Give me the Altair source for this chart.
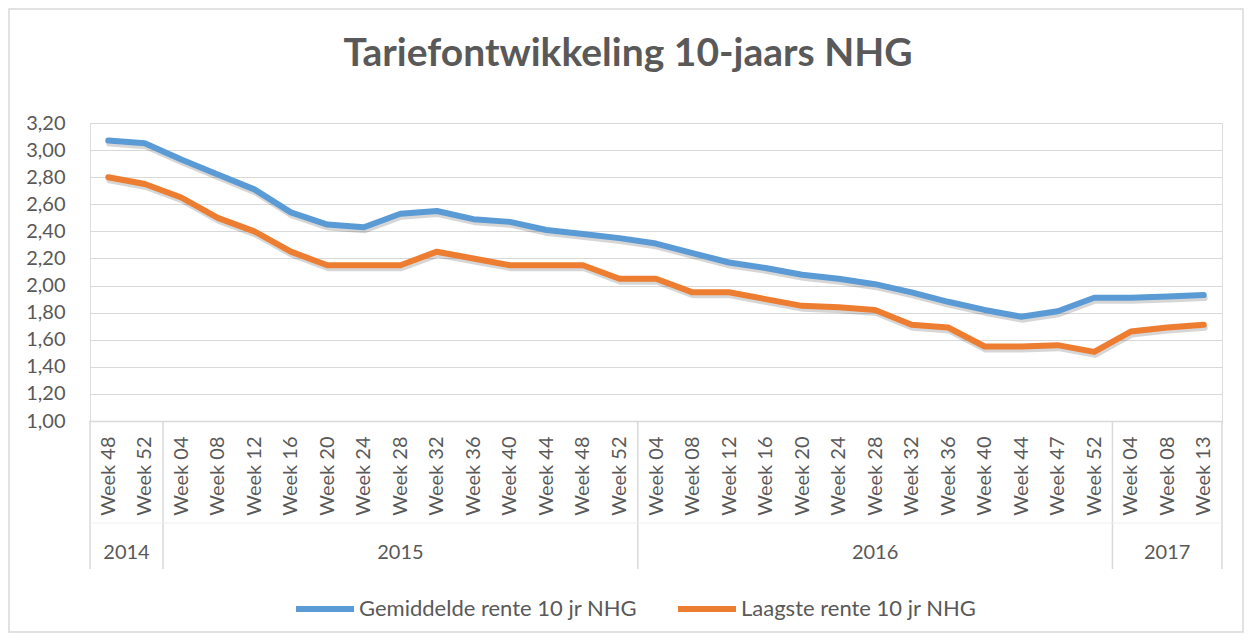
import altair as alt
import pandas as pd

weeks = ["Week 48", "Week 52",
         "Week 04", "Week 08", "Week 12", "Week 16", "Week 20", "Week 24", "Week 28",
         "Week 32", "Week 36", "Week 40", "Week 44", "Week 48", "Week 52",
         "Week 04", "Week 08", "Week 12", "Week 16", "Week 20", "Week 24", "Week 28",
         "Week 32", "Week 36", "Week 40", "Week 44", "Week 47", "Week 52",
         "Week 04", "Week 08", "Week 13"]
years = ["2014"] * 2 + ["2015"] * 13 + ["2016"] * 13 + ["2017"] * 3

gemiddelde = [3.07, 3.05, 2.93, 2.82, 2.71, 2.54, 2.45, 2.43, 2.53, 2.55, 2.49, 2.47, 2.41, 2.38, 2.35,
              2.31, 2.24, 2.17, 2.13, 2.08, 2.05, 2.01, 1.95, 1.88, 1.82, 1.77, 1.81, 1.91,
              1.91, 1.92, 1.93]
laagste = [2.80, 2.75, 2.65, 2.50, 2.40, 2.25, 2.15, 2.15, 2.15, 2.25, 2.20, 2.15, 2.15, 2.15, 2.05,
           2.05, 1.95, 1.95, 1.90, 1.85, 1.84, 1.82, 1.71, 1.69, 1.55, 1.55, 1.56, 1.51,
           1.66, 1.69, 1.71]

series_names = ["Gemiddelde rente 10 jr NHG", "Laagste rente 10 jr NHG"]
series_colors = ["#5B9BD5", "#ED7D31"]
y_ticks = [1.0, 1.2, 1.4, 1.6, 1.8, 2.0, 2.2, 2.4, 2.6, 2.8, 3.0, 3.2]
title_text = "Tariefontwikkeling 10-jaars NHG"

rows = []
for name, vals in zip(series_names, [gemiddelde, laagste]):
    for i, (w, yr, v) in enumerate(zip(weeks, years, vals)):
        rows.append({"idx": i, "week": w, "year": yr, "series": name, "value": v})
df = pd.DataFrame(rows)

cat_df = pd.DataFrame({"idx": list(range(len(weeks))), "week": weeks, "year": years})

# group boundaries (between year groups)
bounds = []
for i in range(len(years)):
    if i == 0 or years[i] != years[i - 1]:
        bounds.append(i - 0.5)
bounds.append(len(years) - 0.5)
bounds_df = pd.DataFrame({"b": bounds})

W, H = 1132, 298
PAD = {"left": 82, "top": 115, "right": 22, "bottom": 212}
TXT = "#595959"
GRID = "#D9D9D9"
FONT = "Lato"

xscale = alt.Scale(domain=[-0.5, len(weeks) - 0.5], nice=False, zero=False)
yscale = alt.Scale(domain=[1.0, 3.2], nice=False, zero=False)

label_expr = "[" + ",".join("'" + w + "'" for w in weeks) + "][datum.value]"

x_axis = alt.Axis(values=list(range(len(weeks))), labelExpr=label_expr,
                  labelAngle=-90, labelFontSize=20, labelColor=TXT, labelFont=FONT,
                  labelPadding=15, ticks=False, grid=False, domain=True,
                  domainColor=GRID, domainWidth=1.5, labelOverlap=False,
                  labelFlush=False, title=None)
y_axis = alt.Axis(values=y_ticks,
                  labelExpr="replace(format(datum.value, '.2f'), '.', ',')",
                  labelFontSize=20, labelColor=TXT, labelFont=FONT,
                  labelPadding=25, ticks=False, domain=False,
                  gridColor=GRID, gridWidth=1.2, title=None)

base = alt.Chart(df)

border = alt.Chart(pd.DataFrame({"k": [0]})).mark_rect(
    fill=None, stroke=GRID, strokeWidth=1.5
).encode(
    x=alt.value(-PAD["left"] + 1), x2=alt.value(W + PAD["right"] - 1),
    y=alt.value(-PAD["top"] + 1), y2=alt.value(H + PAD["bottom"] - 1)
)

title = alt.Chart(pd.DataFrame({"t": [title_text]})).mark_text(
    fontSize=39, fontWeight="bold", font=FONT, color=TXT, align="center", baseline="middle"
).encode(
    x=alt.value(538), y=alt.value(-69), text="t:N"
)

sep = alt.Chart(bounds_df).mark_rule(color=GRID, strokeWidth=1.5).encode(
    x=alt.X("b:Q", scale=xscale, axis=x_axis),
    y=alt.value(H), y2=alt.value(H + 148)
)

row_line = alt.Chart(pd.DataFrame({"a": [-0.5], "b": [len(weeks) - 0.5]})).mark_rule(
    color="#F0F0F0", strokeWidth=1
).encode(
    x=alt.X("a:Q", scale=xscale, axis=x_axis), x2="b:Q",
    y=alt.value(H + 102)
)

year_text = alt.Chart(cat_df).transform_aggregate(
    mid="mean(idx)", groupby=["year"]
).mark_text(fontSize=20, color=TXT, font=FONT, baseline="middle").encode(
    x=alt.X("mid:Q", scale=xscale, axis=x_axis),
    y=alt.value(H + 132),
    text="year:N"
)

shadow = base.mark_line(
    strokeWidth=6, color="#000000", opacity=0.16, strokeCap="round", strokeJoin="round"
).encode(
    x=alt.X("idx:Q", scale=xscale, axis=x_axis),
    y=alt.Y("value:Q", scale=yscale, axis=y_axis),
    detail="series:N",
    xOffset=alt.value(1),
    yOffset=alt.value(3),
)

lines = base.mark_line(strokeWidth=6, strokeCap="round", strokeJoin="round").encode(
    x=alt.X("idx:Q", scale=xscale, axis=x_axis),
    y=alt.Y("value:Q", scale=yscale, axis=y_axis),
    color=alt.Color("series:N",
                    scale=alt.Scale(domain=series_names, range=series_colors),
                    legend=alt.Legend(orient="none", legendX=203, legendY=454,
                                      direction="horizontal", title=None,
                                      symbolType="stroke", symbolStrokeWidth=6,
                                      symbolSize=3364, labelFontSize=22,
                                      labelColor=TXT, labelFont=FONT, labelLimit=500,
                                      columnPadding=28, labelOffset=2, padding=0)),
    detail="series:N",
)

chart = alt.layer(border, title, sep, row_line, year_text, shadow, lines).properties(
    width=W, height=H,
    padding=PAD,
    autosize=alt.AutoSizeParams(type="none"),
).configure_view(stroke=None).configure(font=FONT)

chart.save("out.html", embed_options={"renderer": "svg", "actions": False})
